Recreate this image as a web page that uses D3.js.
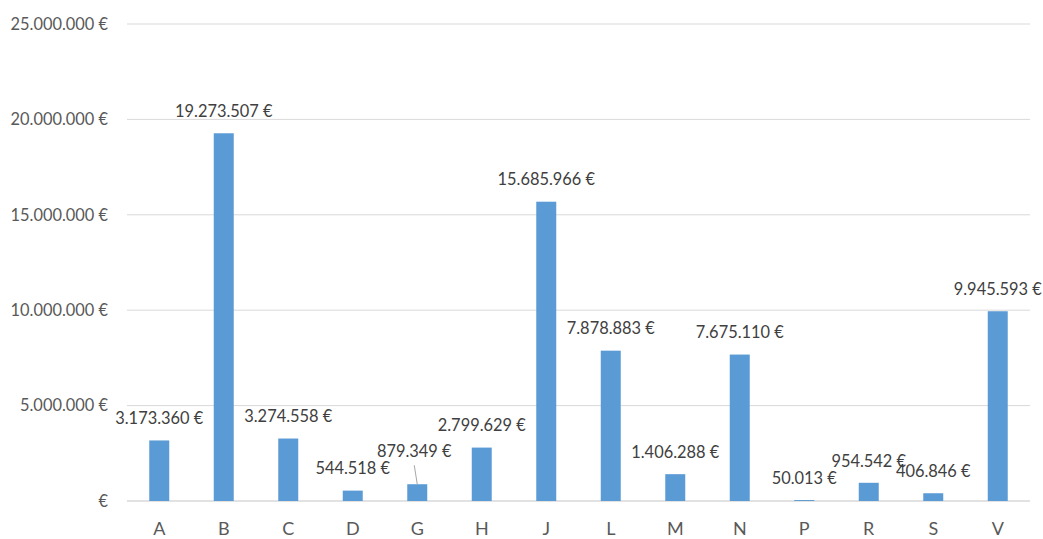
<!DOCTYPE html>
<html>
<head>
<meta charset="utf-8">
<script src="https://cdn.jsdelivr.net/npm/d3@7"></script>
<style>
  html, body { margin: 0; padding: 0; background: #fff; }
  svg { display: block; font-family: Lato, "Open Sans", sans-serif; }
</style>
</head>
<body>
<svg id="chart" width="1043" height="539"></svg>
<script>
const categories = ["A","B","C","D","G","H","J","L","M","N","P","R","S","V"];
const values = [3173360, 19273507, 3274558, 544518, 879349, 2799629, 15685966, 7878883, 1406288, 7675110, 50013, 954542, 406846, 9945593];
const yTicks = [0, 5000000, 10000000, 15000000, 20000000, 25000000];

const W = 1043, H = 539;
const margin = {left: 127, right: 13, top: 24, bottom: 38};
const svg = d3.select("#chart");

const locale = d3.formatLocale({decimal: ",", thousands: ".", grouping: [3], currency: ["", " €"]});
const fmt = locale.format("$,.0f");
const tickFmt = v => v === 0 ? "€" : fmt(v);

const x = d3.scaleBand().domain(categories).range([margin.left, W - margin.right]).paddingInner(0.69).paddingOuter(0.345);
const y = d3.scaleLinear().domain([0, 25000000]).range([H - margin.bottom, margin.top]);

// gridlines
svg.append("g").selectAll("line").data(yTicks).join("line")
  .attr("x1", margin.left).attr("x2", W - margin.right)
  .attr("y1", d => y(d)).attr("y2", d => y(d))
  .attr("stroke", "#d9d9d9").attr("stroke-width", d => d === 0 ? 1.5 : 1);

// y axis labels
const yAxis = d3.axisLeft(y).tickValues(yTicks).tickFormat(tickFmt).tickSize(0).tickPadding(19);
const gy = svg.append("g").attr("transform", `translate(${margin.left},0)`).call(yAxis);
gy.select(".domain").remove();
gy.selectAll("text").attr("font-size", 16.4).attr("fill", "#595959").attr("font-family", "Lato, sans-serif");

// x axis labels
const xAxis = d3.axisBottom(x).tickSize(0).tickPadding(21);
const gx = svg.append("g").attr("transform", `translate(0,${H - margin.bottom})`).call(xAxis);
gx.select(".domain").remove();
gx.selectAll("text").attr("font-size", 18).attr("fill", "#595959").attr("font-family", "Lato, sans-serif");

// bars
const data = categories.map((c, i) => ({c, v: values[i]}));
svg.append("g").selectAll("rect").data(data).join("rect")
  .attr("x", d => x(d.c)).attr("width", x.bandwidth())
  .attr("y", d => y(d.v)).attr("height", d => y(0) - y(d.v))
  .attr("fill", "#5b9bd5");

// labels
const lift = d => d.c === "G" ? 33 : 22;
svg.append("g").selectAll("text").data(data).join("text")
  .attr("x", d => x(d.c) + x.bandwidth() / 2 + (d.c === "G" ? -3 : 0))
  .attr("y", d => y(d.v) - lift(d))
  .attr("dy", "0.35em")
  .attr("text-anchor", "middle")
  .attr("font-size", 16.4).attr("fill", "#404040")
  .text(d => fmt(d.v));

// leader line for G
const g = data.find(d => d.c === "G");
svg.append("line")
  .attr("x1", x(g.c) + x.bandwidth() / 2 - 3).attr("y1", y(g.v) - 19)
  .attr("x2", x(g.c) + x.bandwidth() / 2).attr("y2", y(g.v))
  .attr("stroke", "#a6a6a6").attr("stroke-width", 1);
</script>
</body>
</html>
